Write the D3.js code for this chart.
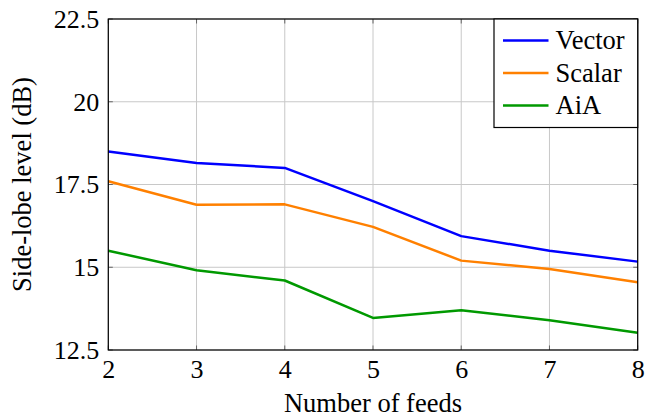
<!DOCTYPE html>
<html>
<head>
<meta charset="utf-8">
<script src="https://cdn.jsdelivr.net/npm/d3@7"></script>
</head>
<body style="margin:0;padding:0;background:#fff">
<svg id="chart" width="645" height="419" style="display:block"></svg>
<script>
// Number of feeds on the x axis
const feeds = [2, 3, 4, 5, 6, 7, 8];

// Side-lobe level (dB) per method
const vectorSLL = [18.5, 18.15, 18.0, 17.0, 15.94, 15.5, 15.17];
const scalarSLL = [17.6, 16.89, 16.9, 16.22, 15.2, 14.95, 14.55];
const aiaSLL    = [15.5, 14.91, 14.6, 13.47, 13.7, 13.4, 13.02];

const seriesNames  = ["Vector", "Scalar", "AiA"];
const seriesColors = ["#0000ff", "#ff8000", "#009900"];

const yTicks = [12.5, 15, 17.5, 20, 22.5];
const yTickLabels = ["12.5", "15", "17.5", "20", "22.5"];
const xTicks = [2, 3, 4, 5, 6, 7, 8];

const FONT = "Liberation Serif";

const series = [vectorSLL, scalarSLL, aiaSLL].map((vals, i) => ({
  name: seriesNames[i],
  color: seriesColors[i],
  points: feeds.map((f, j) => ({ x: f, y: vals[j] }))
}));

const svg = d3.select("#chart");
const W = 645, H = 419;
const margin = { left: 108.3, right: W - 637.7, top: 19, bottom: H - 350 };

const x = d3.scaleLinear().domain([2, 8]).range([margin.left, W - margin.right]);
const y = d3.scaleLinear().domain([12.5, 22.5]).range([H - margin.bottom, margin.top]);

// grid lines
svg.append("g").selectAll("line").data(xTicks).join("line")
  .attr("x1", d => x(d)).attr("x2", d => x(d))
  .attr("y1", y(12.5)).attr("y2", y(22.5))
  .attr("stroke", "#c8c8c8").attr("stroke-width", 1);
svg.append("g").selectAll("line").data(yTicks).join("line")
  .attr("y1", d => y(d)).attr("y2", d => y(d))
  .attr("x1", x(2)).attr("x2", x(8))
  .attr("stroke", "#c8c8c8").attr("stroke-width", 1);

// axes: tick labels only, inward ticks are drawn separately on all four sides
const xAxis = d3.axisBottom(x).tickValues(xTicks).tickFormat(d3.format("d")).tickSize(0).tickPadding(10);
const yAxis = d3.axisLeft(y).tickValues(yTicks).tickFormat((d, i) => yTickLabels[i]).tickSize(0).tickPadding(9);

const gx = svg.append("g").attr("transform", `translate(0,${y(12.5)})`).call(xAxis);
const gy = svg.append("g").attr("transform", `translate(${x(2)},0)`).call(yAxis);
[gx, gy].forEach(a => {
  a.select(".domain").remove();
  a.selectAll("text")
    .attr("font-family", FONT)
    .attr("font-size", 26)
    .attr("fill", "#000");
});
gx.selectAll("text").attr("dy", "0.71em");

const tickLen = 4.5;
const tickColor = "#666";
svg.append("g").selectAll("line").data(xTicks).join("line")
  .attr("x1", d => x(d)).attr("x2", d => x(d))
  .attr("y1", y(12.5)).attr("y2", y(12.5) - tickLen)
  .attr("stroke", tickColor);
svg.append("g").selectAll("line").data(xTicks).join("line")
  .attr("x1", d => x(d)).attr("x2", d => x(d))
  .attr("y1", y(22.5)).attr("y2", y(22.5) + tickLen)
  .attr("stroke", tickColor);
svg.append("g").selectAll("line").data(yTicks).join("line")
  .attr("y1", d => y(d)).attr("y2", d => y(d))
  .attr("x1", x(2)).attr("x2", x(2) + tickLen)
  .attr("stroke", tickColor);
svg.append("g").selectAll("line").data(yTicks).join("line")
  .attr("y1", d => y(d)).attr("y2", d => y(d))
  .attr("x1", x(8)).attr("x2", x(8) - tickLen)
  .attr("stroke", tickColor);

// series lines
const line = d3.line().x(d => x(d.x)).y(d => y(d.y));
svg.append("g").selectAll("path").data(series).join("path")
  .attr("d", d => line(d.points))
  .attr("fill", "none")
  .attr("stroke", d => d.color)
  .attr("stroke-width", 2.5)
  .attr("stroke-linejoin", "round");

// plot frame
svg.append("rect")
  .attr("x", x(2)).attr("y", y(22.5))
  .attr("width", x(8) - x(2)).attr("height", y(12.5) - y(22.5))
  .attr("fill", "none").attr("stroke", "#000").attr("stroke-width", 1.2);

// axis titles
svg.append("text")
  .attr("x", (x(2) + x(8)) / 2).attr("y", 411.5)
  .attr("text-anchor", "middle")
  .attr("font-family", FONT).attr("font-size", 26.5)
  .text("Number of feeds");
svg.append("text")
  .attr("transform", `translate(31,${(y(12.5) + y(22.5)) / 2}) rotate(-90)`)
  .attr("text-anchor", "middle")
  .attr("font-family", FONT).attr("font-size", 26.5)
  .text("Side-lobe level (dB)");

// legend
const lgX0 = 494, lgY0 = y(22.5), lgX1 = x(8), lgY1 = 127.5;
svg.append("rect")
  .attr("x", lgX0).attr("y", lgY0)
  .attr("width", lgX1 - lgX0).attr("height", lgY1 - lgY0)
  .attr("fill", "#fff").attr("stroke", "#000").attr("stroke-width", 1.2);
const rowY = [40.5, 73, 105.5];
series.forEach((s, i) => {
  svg.append("line")
    .attr("x1", 503).attr("x2", 548.5)
    .attr("y1", rowY[i]).attr("y2", rowY[i])
    .attr("stroke", s.color).attr("stroke-width", 2.5);
  svg.append("text")
    .attr("x", 555.5).attr("y", rowY[i] + 8.5)
    .attr("font-family", FONT).attr("font-size", 26.5)
    .text(s.name);
});
</script>
</body>
</html>
